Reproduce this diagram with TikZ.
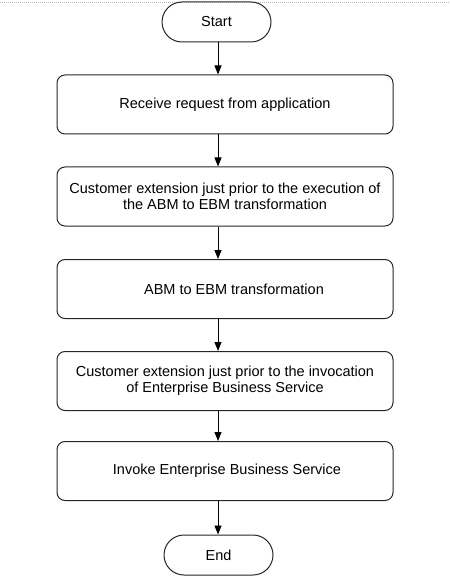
\documentclass[tikz,border=0pt]{standalone}
\usepackage{fontspec}
\setmainfont{Liberation Sans}
\usetikzlibrary{arrows.meta, positioning}

\definecolor{pageedge}{RGB}{196,178,190}
\tikzset{
  terminal/.style={draw=black!85, line width=1pt, rounded corners=20pt,
    minimum width=109pt, minimum height=40pt, inner sep=0pt},
  process/.style={draw=black!85, line width=1pt, rounded corners=8pt,
    minimum width=336pt, minimum height=59pt, inner sep=0pt, align=center}
}

\begin{document}
\begin{tikzpicture}[x=1pt,y=-1pt,on grid,node distance=92pt,>={Triangle[length=9pt,width=7pt]},
  font=\fontsize{14.5}{16}\selectfont]
  \useasboundingbox (0,0) rectangle (449,585);
  \draw[pageedge, line width=0.8pt, dash pattern=on 1pt off 1pt] (0,2) -- (449,2);

  \node[terminal] (start) at (216.5,22) {Start};
  \node[process] (receive) [below right=82.5pt and 8.5pt of start] {Receive request from application};
  \node[process] (extabm) [below=of receive] {Customer extension just prior to the execution of\\the ABM to EBM transformation};
  \node[process] (transform) [below=92.5pt of extabm] {\hspace*{18pt}ABM to EBM transformation};
  \node[process] (extebs) [below=of transform] {Customer extension just prior to the invocation\\of Enterprise Business Service};
  \node[process] (invoke) [below=90pt of extebs] {\hspace*{4pt}Invoke Enterprise Business Service};
  \node[terminal] (end) [below left=84pt and 6.5pt of invoke] {End};

  \draw[->, line width=0.9pt] ([xshift=1.5pt]start.south) -- ([xshift=1.5pt]start.south |- receive.north);
  \draw[->, line width=0.9pt] ([xshift=1.5pt]start.south |- receive.south) -- ([xshift=1.5pt]start.south |- extabm.north);
  \draw[->, line width=0.9pt] ([xshift=1.5pt]start.south |- extabm.south) -- ([xshift=1.5pt]start.south |- transform.north);
  \draw[->, line width=0.9pt] ([xshift=1.5pt]start.south |- transform.south) -- ([xshift=1.5pt]start.south |- extebs.north);
  \draw[->, line width=0.9pt] ([xshift=1.5pt]start.south |- extebs.south) -- ([xshift=1.5pt]start.south |- invoke.north);
  \draw[->, line width=0.9pt] ([xshift=1.5pt]start.south |- invoke.south) -- ([xshift=1.5pt]start.south |- end.north);
\end{tikzpicture}
\end{document}
